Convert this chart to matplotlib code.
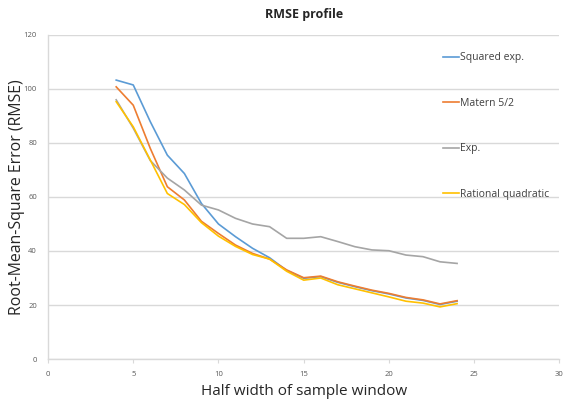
import matplotlib.pyplot as plt

plt.rcParams['font.family'] = ['Open Sans', 'DejaVu Sans']

half_width = [4, 5, 6, 7, 8, 9, 10, 11, 12, 13, 14, 15, 16, 17, 18, 19, 20, 21, 22, 23, 24]

squared_exp = [103.3, 101.5, 87.9, 75.5, 68.7, 57.6, 50.0, 45.3, 41.0, 37.5, 32.8, 29.9,
               30.5, 28.4, 26.8, 25.3, 24.1, 22.6, 21.7, 20.2, 21.4]
matern_52 = [100.8, 94.0, 78.0, 63.8, 58.9, 51.0, 46.5, 42.2, 39.1, 37.0, 33.0, 30.1,
             30.7, 28.6, 27.0, 25.5, 24.3, 22.8, 21.9, 20.4, 21.6]
exp_kernel = [96.0, 85.5, 73.5, 67.0, 62.6, 57.0, 55.2, 52.1, 50.0, 49.0, 44.7, 44.7,
              45.3, 43.5, 41.6, 40.4, 40.1, 38.5, 37.9, 36.0, 35.4]
rational_quad = [95.3, 86.0, 73.7, 61.3, 57.2, 50.5, 45.5, 41.7, 38.7, 37.0, 32.5, 29.2,
                 30.0, 27.5, 26.0, 24.5, 23.0, 21.4, 20.7, 19.3, 20.5]

series = [
    ("Squared exp.", squared_exp, "#5B9BD5"),
    ("Matern 5/2", matern_52, "#ED7D31"),
    ("Exp.", exp_kernel, "#A5A5A5"),
    ("Rational quadratic", rational_quad, "#FFC000"),
]

fig = plt.figure(figsize=(5.65, 4.0), dpi=100)
ax = fig.add_axes([0.085, 0.1025, 0.905, 0.81])

for label, values, color in series:
    ax.plot(half_width, values, color=color, linewidth=1.2, label=label)

ax.set_xlim(0, 30)
ax.set_ylim(0, 120)
ax.set_xticks(range(0, 31, 5))
ax.set_yticks(range(0, 121, 20))
ax.yaxis.grid(True, color="#D9D9D9", linewidth=1.0)
ax.set_axisbelow(True)

for side in ["top", "right"]:
    ax.spines[side].set_visible(False)
for side in ["left", "bottom"]:
    ax.spines[side].set_color("#D9D9D9")
    ax.spines[side].set_linewidth(1.0)

ax.tick_params(axis="both", labelsize=5.5, labelcolor="#595959", color="#D9D9D9", length=3)
ax.tick_params(axis="y", length=0, pad=8)
ax.tick_params(axis="x", pad=6)

ax.set_xlabel("Half width of sample window", fontsize=11, color="#262626", labelpad=4)
ax.set_ylabel("Root-Mean-Square Error (RMSE)", fontsize=11.4, color="#262626", labelpad=-1)
ax.set_title("RMSE profile", fontsize=9, fontweight="bold", color="#262626", pad=12)

leg = ax.legend(loc="upper left", bbox_to_anchor=(0.755, 0.975), frameon=False, fontsize=7.5,
                handlelength=1.5, handletextpad=0.1, labelspacing=3.3)
for text in leg.get_texts():
    text.set_color("#404040")

fig.savefig("out.png", dpi=100)
